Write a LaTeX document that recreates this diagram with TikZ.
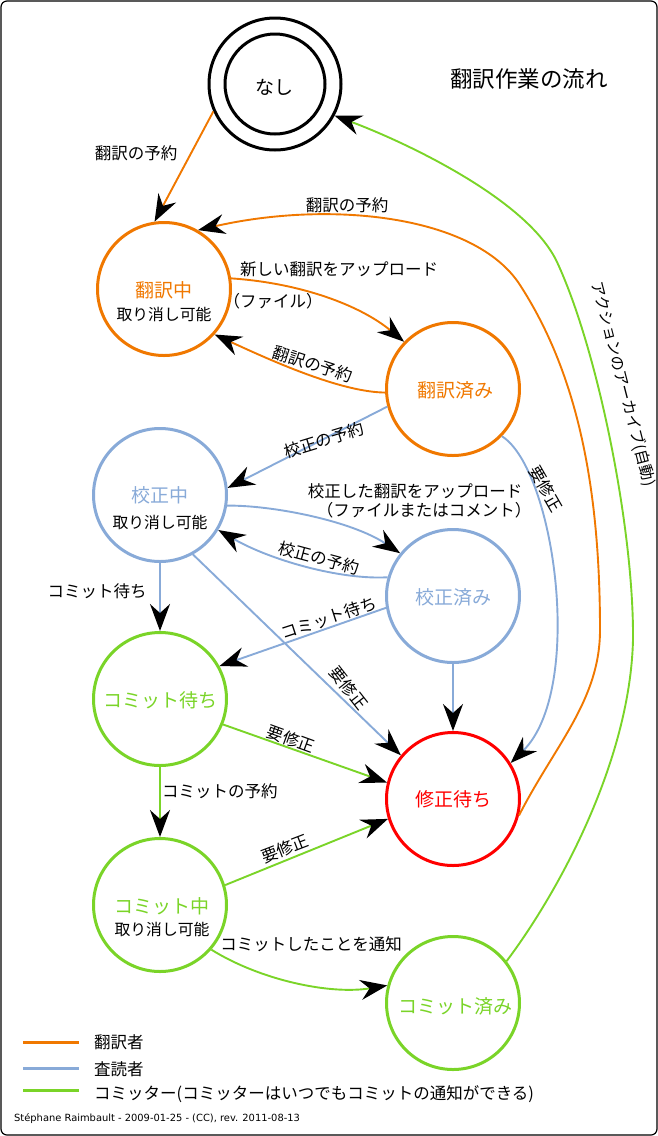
\documentclass[tikz,border=0pt]{standalone}
\usepackage{fontspec}
\setmainfont{Noto Sans CJK JP}
\newfontfamily\dejavu{DejaVu Sans}
\usetikzlibrary{arrows.meta}
\definecolor{trc}{RGB}{240,120,0}
\definecolor{prc}{RGB}{136,170,216}
\definecolor{cmc}{RGB}{122,212,40}
\definecolor{fxc}{RGB}{255,0,0}
\newcommand{\fs}[1]{\fontsize{#1}{#1}\selectfont}
\begin{document}
\begin{tikzpicture}[x=1pt,y=-1pt,
  state/.style={circle,draw,line width=3pt,minimum size=133pt,inner sep=0pt},
  sname/.style={font=\fs{19},inner sep=0pt},
  cancel/.style={font=\fs{15.8},inner sep=0pt},
  lbl/.style={font=\fs{16.5},inner sep=0pt},
  edge/.style={line width=1.9pt,-{Stealth[black,length=27pt,width=20pt,inset=9pt]}},
  leg/.style={line width=3pt},
  legt/.style={font=\fs{16.5},inner sep=0pt,anchor=west},
]
\useasboundingbox (0,0) rectangle (658,1136);
\draw[line width=1.2pt,rounded corners=6pt] (1,1) rectangle (657,1135);

% title
\node[font=\fs{22.5},inner sep=0pt] (title) at (529,79) {翻訳作業の流れ};

% states
\node[circle,draw,line width=3pt,minimum size=132pt,inner sep=0pt] (N) at (275,84) {};
\node[circle,draw,line width=3pt,minimum size=100pt,inner sep=0pt] (Ni) at (275,84) {};
\node[sname] (Nt) at (274,87) {なし};

\node[state,draw=trc] (tr) at (164,289) {};
\node[sname,text=trc] (trt) at (164,290) {翻訳中};
\node[cancel] (trc2) at (164,314) {取り消し可能};

\node[state,draw=trc] (trd) at (453,389) {};
\node[sname,text=trc] (trdt) at (455,390) {翻訳済み};

\node[state,draw=prc] (pr) at (160,495) {};
\node[sname,text=prc] (prt) at (160,495) {校正中};
\node[cancel] (prc2) at (160,522) {取り消し可能};

\node[state,draw=prc] (prd) at (453,596) {};
\node[sname,text=prc] (prdt) at (453,597) {校正済み};

\node[state,draw=cmc] (cw) at (160,699) {};
\node[sname,text=cmc] (cwt) at (160,700) {コミット待ち};

\node[state,draw=fxc] (fix) at (453,799) {};
\node[sname,text=fxc] (fixt) at (453,799) {修正待ち};

\node[state,draw=cmc] (cm) at (160,905) {};
\node[sname,text=cmc] (cmt) at (162,906) {コミット中};
\node[cancel] (cmc2) at (162,929) {取り消し可能};

\node[state,draw=cmc] (cmd) at (453,1003) {};
\node[sname,text=cmc] (cmdt) at (455,1006) {コミット済み};

% edges - translator
\draw[edge,trc] (N.204) -- (tr.98);
\node[lbl] (l1) at (136,153) {翻訳の予約};

\draw[edge,trc] (fix.-14) .. controls (555,745) and (600,700) .. (600,630)
   .. controls (600,480) and (575,370) .. (520,285)
   .. controls (475,215) and (330,200) .. (tr.60);
\node[lbl] (l2) at (347,205) {翻訳の予約};

\draw[edge,trc] (tr.9) .. controls (300,283) and (360,305) .. (trd.136);
\node[lbl] (l3a) at (339,269) {新しい翻訳をアップロード};
\node[lbl] (l3b) at (273,301) {（ファイル）};

\draw[edge,trc] (trd.183) .. controls (340,392) and (270,360) .. (tr.-42);
\node[lbl,rotate=-18] (l4) at (313,364) {翻訳の予約};

% edges - reviewer
\draw[edge,prc] (trd.195) -- (pr.6);
\node[lbl,rotate=17] (l5) at (324,440) {校正の予約};

\draw[edge,prc] (trd.-44) .. controls (555,470) and (585,690) .. (fix.32);
\node[lbl,rotate=-60] (l6) at (546,489) {要修正};

\draw[edge,prc] (pr.-9) .. controls (270,505) and (350,520) .. (prd.141);
\node[lbl] (l7a) at (415,491) {校正した翻訳をアップロード};
\node[lbl] (l7b) at (424,510) {（ファイルまたはコメント）};

\draw[edge,prc] (prd.164) .. controls (340,580) and (270,560) .. (pr.-31);
\node[lbl,rotate=-15] (l8) at (319,558) {校正の予約};

\draw[edge,prc] (pr.-90) -- (cw.90);
\node[lbl] (l9) at (97,591) {コミット待ち};

\draw[edge,prc] (pr.-61) -- (fix.140);
\node[lbl,rotate=-52] (l10) at (349,688) {要修正};

\draw[edge,prc] (prd.190) -- (cw.29);
\node[lbl,rotate=18] (l11) at (329,618) {コミット待ち};

\draw[edge,prc] (prd.-90) -- (fix.90);

% edges - committer
\draw[edge,cmc] (cw.-22) -- (fix.166);
\node[lbl,rotate=-20] (l13) at (291,739) {要修正};

\draw[edge,cmc] (cw.-90) -- (cm.90);
\node[lbl,anchor=west] (l14) at (162,791) {コミットの予約};

\draw[edge,cmc] (cm.17) -- (fix.197);
\node[lbl,rotate=21] (l15) at (285,849) {要修正};

\draw[edge,cmc] (cm.-41) .. controls (260,980) and (330,995) .. (cmd.165);
\node[lbl] (l16) at (311,944) {コミットしたことを通知};

\draw[edge,cmc] (cmd.38) .. controls (560,890) and (630,760) .. (633,640)
   .. controls (634,530) and (598,350) .. (557,262)
   .. controls (527,198) and (400,140) .. (N.-28);
\node[lbl,font=\fs{15.5},rotate=-75.5] (l17) at (623,384) {アクションのアーカイブ(自動)};

% legend
\coordinate (lo1) at (23,1042); \coordinate (lo2) at (79,1042);
\coordinate (lb1) at (23,1068); \coordinate (lb2) at (79,1068);
\coordinate (lg1) at (23,1090); \coordinate (lg2) at (79,1090);
\draw[leg,trc] (lo1) -- (lo2);
\draw[leg,prc] (lb1) -- (lb2);
\draw[leg,cmc] (lg1) -- (lg2);
\node[legt] (lt1) at (94,1042) {翻訳者};
\node[legt] (lt2) at (94,1069) {査読者};
\node[legt] (lt3) at (94,1094) {コミッター(コミッターはいつでもコミットの通知ができる)};

\node[font=\dejavu\fs{9.9},anchor=west,inner sep=0pt] (foot) at (14,1119) {Stéphane Raimbault - 2009-01-25 - (CC), rev. 2011-08-13};
\end{tikzpicture}
\end{document}
